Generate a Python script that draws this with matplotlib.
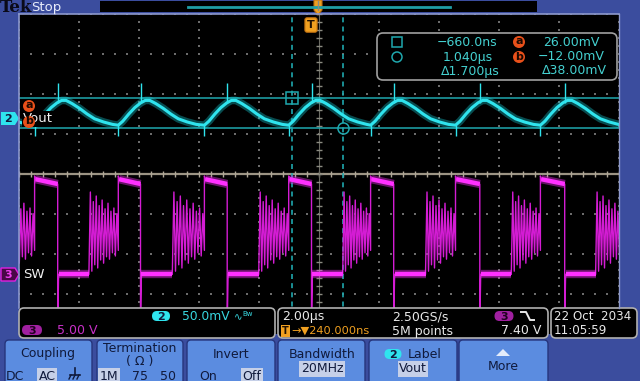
import matplotlib
matplotlib.use("Agg")
import matplotlib.pyplot as plt
from matplotlib.patches import FancyBboxPatch, Rectangle, Polygon, Circle
import numpy as np

# Scope settings shown on screen
time_per_div = 2.0      # us/div
trig_delay_us = 0.24    # T -> 240.000 ns
ch2_scale_mv = 50.0     # Vout, mV/div
ch2_pos_div = 1.38
ch3_scale_v = 5.0       # SW, V/div
ch3_pos_div = -2.51

# SW node edges (us)
ring_start_us = [-13.09, -10.26, -7.43, -4.65, -1.77, 1.03, 3.79, 6.65, 9.46]
rise_us = [-12.07, -9.24, -6.45, -3.58, -0.77, 1.96, 4.79, 7.62, 10.45]
fall_us = [-11.30, -8.47, -5.71, -2.82, -0.01, 2.73, 5.60, 8.43, 11.28]

sw_high_v = [11.9, 11.3]     # start / end of high plateau
sw_low_v = 0.0
sw_overshoot_v = 12.3
sw_undershoot_v = -6.5
ring_peaks_v = [10.3, 9.1, 9.8, 8.6, 9.3, 8.2, 8.9, 7.9, 8.3, 7.6]
ring_troughs_v = [0.4, 1.2, 0.8, 1.8, 1.4, 2.2, 1.9, 2.7, 2.3, 3.0]

# one Vout period, measured from the SW rising edge
vout_phase_us = [0.0, 0.15, 0.35, 0.55, 0.75, 0.9, 1.05, 1.25, 1.5, 1.75, 2.0, 2.3, 2.6]
vout_mv = [-8, -3, 6, 14, 20, 23, 23, 19, 13, 6, 0, -4, -7]
vout_spike_up_mv = [20, 45]
vout_spike_down_mv = [-8, -22]

# cursors
cursor_t_us = [-0.66, 1.04]
cursor_v_mv = [26.0, -12.0]

FRAME = '#3b4d9e'
BTN = '#5b8ce0'
BTN_EDGE = '#26357c'
HL = '#c6d0e8'
NAVY = '#101a3c'
CYAN = '#2fe4ee'
TEAL = '#1fa8ae'
MAG = '#e020e0'
ORANGE = '#f0a020'
RED = '#e8501a'


def ch2(mv):
    return ch2_pos_div + np.asarray(mv, dtype=float) / ch2_scale_mv


def ch3(v):
    return ch3_pos_div + np.asarray(v, dtype=float) / ch3_scale_v


fig = plt.figure(figsize=(6.4, 3.81), dpi=100, facecolor=FRAME)

# --- graticule / waveform area
ax = fig.add_axes([19 / 640, 1 - 334 / 381, 600 / 640, 320 / 381], zorder=1)
ax.set_facecolor('black')
t_left = trig_delay_us - 5 * time_per_div
t_right = trig_delay_us + 5 * time_per_div
ax.set_xlim(t_left, t_right)
ax.set_ylim(-4, 4)
ax.set_xticks([])
ax.set_yticks([])
for s in ax.spines.values():
    s.set_visible(False)

# dotted grid
for k in range(11):
    if k == 5:
        continue
    yy = np.arange(-4, 4.01, 0.2)
    ax.scatter(np.full_like(yy, t_left + k * time_per_div), yy, s=1.2, marker='s',
               color='#6c6c6c', linewidths=0, zorder=1)
for j in range(-4, 5):
    if j == 0:
        continue
    xx = np.arange(t_left, t_right + 0.01, 0.4)
    ax.scatter(xx, np.full_like(xx, j), s=1.2, marker='s', color='#6c6c6c',
               linewidths=0, zorder=1)

# centre lines with minor ticks
ax.axhline(0, color='#9c9484', lw=1.6, zorder=1)
xx = np.arange(t_left, t_right + 0.01, 0.4)
ax.vlines(xx, -0.07, 0.07, color='#b0a898', lw=1, zorder=1)
ax.axvline(trig_delay_us, color='#6a6a62', lw=0.8, zorder=1)
yy = np.arange(-4, 4.01, 0.2)
ax.hlines(yy, trig_delay_us - 0.1, trig_delay_us + 0.1, color='#8a8a80', lw=1, zorder=1)

# cursors
for tc in cursor_t_us:
    ax.axvline(tc, color=TEAL, lw=1.2, ls=(0, (3, 2.5)), zorder=2)
for vc in cursor_v_mv:
    ax.axhline(ch2(vc), color=TEAL, lw=1.1, zorder=2)

# --- SW trace (ch3)
sw_t, sw_v = [], []
n = len(ring_peaks_v)
for i in range(len(rise_us)):
    rs, r, f = ring_start_us[i], rise_us[i], fall_us[i]
    dt = (r - rs) / n
    sw_t.append(rs)
    sw_v.append(sw_low_v)
    for k in range(n):
        sw_t += [rs + (k + 0.5) * dt, rs + (k + 1) * dt]
        sw_v += [ring_peaks_v[k], ring_troughs_v[k]]
    sw_t += [r, r + 0.03, f, f, f + 0.03]
    sw_v += [sw_overshoot_v, sw_high_v[0], sw_high_v[1], sw_undershoot_v, sw_low_v]
ax.plot(sw_t, ch3(sw_v), color='#d41cd4', lw=1.0, zorder=3)

for i in range(len(rise_us)):
    hi_t = [rise_us[i] + 0.03, fall_us[i]]
    ax.plot(hi_t, ch3(sw_high_v), color='#ff30ff', lw=6, alpha=0.4, zorder=3,
            solid_capstyle='butt')
    ax.plot(hi_t, ch3(sw_high_v), color='#ff30ff', lw=3.2, zorder=3, solid_capstyle='butt')
    if i + 1 < len(rise_us):
        lo_t = [fall_us[i] + 0.03, ring_start_us[i + 1]]
        ax.plot(lo_t, ch3([sw_low_v, sw_low_v]), color='#ff30ff', lw=6, alpha=0.4,
                zorder=3, solid_capstyle='butt')
        ax.plot(lo_t, ch3([sw_low_v, sw_low_v]), color='#ff30ff', lw=3.2, zorder=3,
                solid_capstyle='butt')

# --- Vout trace (ch2)
vt, vv = [], []
for r in rise_us:
    for p, m in zip(vout_phase_us, vout_mv):
        vt.append(r + p)
        vv.append(m)
ax.plot(vt, ch2(vv), color='#18d8e2', lw=5.5, alpha=0.35, zorder=4)
ax.plot(vt, ch2(vv), color=CYAN, lw=2.2, zorder=4)
ax.vlines(fall_us, ch2(vout_spike_up_mv[0]), ch2(vout_spike_up_mv[1]), color=CYAN, lw=1, zorder=4)
ax.vlines(rise_us, ch2(vout_spike_down_mv[0]), ch2(vout_spike_down_mv[1]), color=CYAN, lw=1, zorder=4)

ax.plot(cursor_t_us[0], ch2(cursor_v_mv[0]), marker='s', ms=8, mfc='none', mec=TEAL, mew=1.1, zorder=5)
ax.plot(cursor_t_us[1], ch2(cursor_v_mv[1]), marker='o', ms=8, mfc='none', mec=TEAL, mew=1.1, zorder=5)

# --- overlay: frame, readouts, menu
ov = fig.add_axes([0, 0, 1, 1], zorder=2)
ov.set_xlim(0, 640)
ov.set_ylim(381, 0)
ov.axis('off')
ov.patch.set_visible(False)


def txt(x, y, s, color='#e8e8e8', size=9, ha='left', **kw):
    return ov.text(x, y, s, color=color, fontsize=size, ha=ha, va='center', **kw)


def rbox(x, y, w, h, fc, ec='none', r=4, lw=1.0):
    ov.add_patch(FancyBboxPatch((x, y), w, h, boxstyle=f'round,pad=0,rounding_size={r}',
                                fc=fc, ec=ec, lw=lw))


def pill(xc, yc, s, fc, tc, w=18, h=10):
    rbox(xc - w / 2, yc - h / 2, w, h, fc, r=5)
    txt(xc, yc + 0.5, s, color=tc, size=8, ha='center', fontweight='bold')


def badge(xc, yc, s):
    ov.add_patch(Circle((xc, yc), 6, fc=RED, ec='none', zorder=6))
    txt(xc, yc - 0.5, s, color='#1a0800', size=8, ha='center', fontweight='bold', zorder=7)


# graticule border
ov.plot([19, 19], [14, 308], color='#8c98cc', lw=1.2)
ov.plot([19, 618.5], [14, 14], color='#8c98cc', lw=1.2)
ov.plot([618.5, 618.5], [14, 308], color='#8c98cc', lw=1)

# top bar
txt(0, 7.5, 'Tek', color='#0a0a18', size=12, family='DejaVu Serif', fontweight='bold')
txt(31, 7, 'Stop', color='#e8ecfa', size=9.5)
ov.add_patch(Rectangle((100, 1), 437, 11, fc='black', ec='none'))
ov.plot([188, 450], [6.5, 6.5], color='#1f9ea6', lw=2)
ov.add_patch(Polygon([(314, 0), (322, 0), (322, 10), (318, 15), (314, 10)], closed=True,
                     fc=ORANGE, ec='#c07010', lw=0.8))
ov.plot([318, 318], [1, 10], color='#8a8a80', lw=1)
txt(311, 25, 'T', color='#201000', size=8, ha='center', fontweight='bold',
    bbox=dict(boxstyle='round,pad=0.2', fc=ORANGE, ec='#c07010', lw=0.8))

# channel markers on the left
ov.add_patch(Polygon([(1, 112), (15, 112), (19, 118.5), (15, 125), (1, 125)], closed=True,
                     fc=CYAN, ec='none'))
txt(8, 118.8, '2', color=NAVY, size=8, ha='center', fontweight='bold')
txt(23, 119, 'Vout', color='#f0f0f0', size=9.5,
    bbox=dict(boxstyle='square,pad=0.1', fc='black', ec='none'))
badge(29, 106, 'a')
badge(29, 122, 'b')
ov.add_patch(Polygon([(1, 268), (15, 268), (19, 274.5), (15, 281), (1, 281)], closed=True,
                     fc='#4a0848', ec=MAG, lw=1))
txt(8, 274.8, '3', color='#f040f0', size=8, ha='center', fontweight='bold')
txt(23, 275, 'SW', color='#f0f0f0', size=9.5)

# cursor readout
rbox(377, 33, 240, 47, 'black', ec='#a0a0a0', r=6, lw=1.2)
ov.add_patch(Rectangle((392, 37), 10, 10, fc='none', ec=TEAL, lw=1.1))
ov.add_patch(Circle((397, 57), 5, fc='none', ec=TEAL, lw=1.1))
rd = '#44d0d0'
txt(497, 42, '\u2212660.0ns', color=rd, ha='right')
txt(493, 57, '1.040\u00b5s', color=rd, ha='right')
txt(500, 71, '\u03941.700\u00b5s', color=rd, ha='right')
badge(519, 42, 'a')
badge(519, 57, 'b')
txt(599, 42, '26.00mV', color=rd, ha='right')
txt(605, 57, '\u221212.00mV', color=rd, ha='right')
txt(607, 71, '\u039438.00mV', color=rd, ha='right')

# bottom readouts
rbox(19, 308, 256, 30, 'black', ec='#b0b0b0', r=5, lw=1.2)
pill(161, 316, '2', CYAN, NAVY)
txt(182, 316.5, '50.0mV', color='#38d8e0', size=8.8)
txt(234, 317, '\u223f', color='#38d8e0', size=7.5)
txt(242, 313.5, 'Bw', color='#38d8e0', size=5)
pill(32, 330, '3', '#a020a0', '#200020', w=20)
txt(57, 331, '5.00 V', color='#c830c8')

rbox(278, 308, 270, 30, 'black', ec='#b0b0b0', r=5, lw=1.2)
txt(282, 316.5, '2.00\u00b5s')
txt(285.5, 331, 'T', color='#201000', size=7, ha='center', fontweight='bold',
    bbox=dict(boxstyle='square,pad=0.15', fc=ORANGE, ec='none'))
txt(291, 331, '\u2192\u25bc240.000ns', color=ORANGE, size=8.2)
txt(392, 316.5, '2.50GS/s')
txt(392, 331, '5M points')
pill(504, 316, '3', '#a020a0', '#200020', w=19)
ov.plot([521, 526, 530, 534], [312, 312, 320, 320], color='#e8e8e8', lw=1.4)
txt(541, 331, '7.40 V', ha='right')

rbox(551, 308, 86, 30, 'black', ec='#b0b0b0', r=5, lw=1.2)
txt(554, 316.5, '22 Oct  2034', size=8.6)
txt(554, 331, '11:05:59', size=8.6)

# menu buttons
buttons = [(5, 92), (97, 183), (187, 275), (278, 365), (369, 457), (459, 548)]
for x0, x1 in buttons:
    rbox(x0, 340, x1 - x0, 50, BTN, ec=BTN_EDGE, r=4, lw=1)
hlb = dict(boxstyle='square,pad=0.12', fc=HL, ec='none')
txt(48, 354, 'Coupling', color=NAVY, ha='center')
txt(15, 376, 'DC', color=NAVY, ha='center')
txt(47, 376, 'AC', color=NAVY, ha='center', bbox=hlb)
ov.plot([75, 75], [368, 375], color=NAVY, lw=1.2)
ov.plot([70, 80], [375, 375], color=NAVY, lw=1.2)
for dx in (-4, 0, 4):
    ov.plot([75 + dx, 73 + dx], [375, 379], color=NAVY, lw=1)
txt(140, 348, 'Termination', color=NAVY, ha='center')
txt(140, 361, '( \u03a9 )', color=NAVY, ha='center')
txt(109, 376, '1M', color=NAVY, ha='center', bbox=hlb)
txt(140, 376, '75', color=NAVY, ha='center')
txt(168, 376, '50', color=NAVY, ha='center')
txt(231, 354, 'Invert', color=NAVY, ha='center')
txt(208, 376, 'On', color=NAVY, ha='center')
txt(252, 376, 'Off', color=NAVY, ha='center', bbox=hlb)
txt(322, 354, 'Bandwidth', color=NAVY, ha='center')
txt(322, 369, '20MHz', color=NAVY, ha='center', bbox=hlb)
pill(393, 354, '2', CYAN, NAVY, w=17)
txt(425, 354, 'Label', color=NAVY, ha='center')
txt(413, 369, 'Vout', color=NAVY, ha='center', bbox=hlb)
ov.add_patch(Polygon([(496, 356), (510, 356), (503, 349)], closed=True, fc='#e4ecfa', ec='none'))
txt(503, 367, 'More', color=NAVY, ha='center')

fig.savefig('out.png', dpi=100, facecolor=FRAME)
